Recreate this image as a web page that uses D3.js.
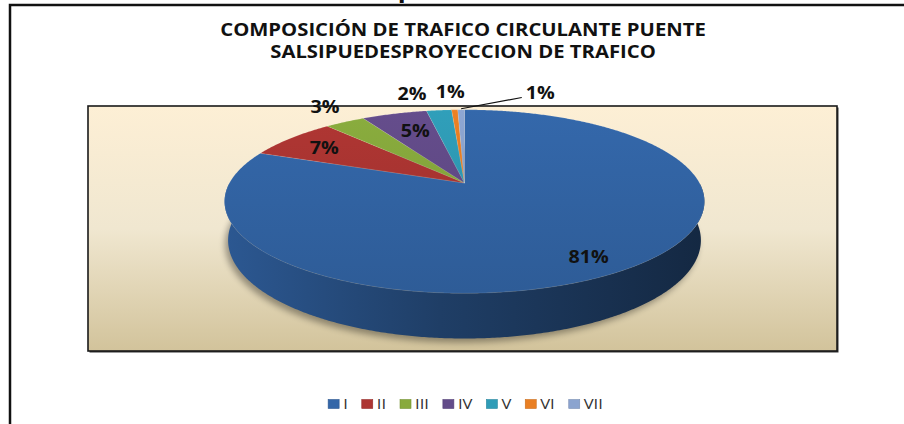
<!DOCTYPE html>
<html><head><meta charset="utf-8">
<script src="https://cdn.jsdelivr.net/npm/d3@7"></script>
<style>html,body{margin:0;padding:0;background:#fff;overflow:hidden}</style>
</head><body><svg id="chart" width="904" height="424"></svg>
<script>
// ---------------- data ----------------
const categories = ["I","II","III","IV","V","VI","VII"];
const shares = [80.9, 7.4, 3.25, 5.35, 2.05, 0.5, 0.55];
const colors = ["#3366a8","#ad3532","#88aa3d","#634c8a","#2f9cb7","#e97f23","#8ba4cf"];
const titleLines = ["COMPOSICIÓN DE TRAFICO CIRCULANTE PUENTE","SALSIPUEDESPROYECCION DE TRAFICO"];

// ---------------- layout ----------------
const W = 904, H = 424;
const svg = d3.select("#chart");
const defs = svg.append("defs");
const FONT = "'Open Sans', 'Liberation Sans', sans-serif";
const plot = {x0: 88, y0: 106, x1: 837, y1: 351};
const cam = {cx: 464.5, cy: 183, D: 4.6, alpha: 22*Math.PI/180, sD: 1081, h: 0.176};
const titleTarget = 486;         // width of first title line
// label placement: radius factor and angular nudge (degrees) from slice middle
const labelPlacement = [
  {r:0.85, shift:2.3}, {r:0.78, shift:-0.9}, {r:1.27, shift:1.8}, {r:0.71, shift:1.2},
  {r:1.30, shift:-5}, {r:1.31, shift:-0.5}, {r:1.35, shift:18.5, leader:true}
];

function proj(r, th, yw){
  const {D, alpha, sD, cx, cy} = cam;
  const px = r*Math.sin(th), pz = -r*Math.cos(th);
  const vy = yw - D*Math.sin(alpha), vz = pz - D*Math.cos(alpha);
  const zc = -vy*Math.sin(alpha) - vz*Math.cos(alpha);
  const yc = vy*Math.cos(alpha) - vz*Math.sin(alpha);
  return [cx + sD*px/zc, cy - sD*yc/zc];
}
function arcPts(a0, a1, yw){
  const n = Math.max(2, Math.ceil(Math.abs(a1-a0)/(Math.PI/360)));
  return d3.range(n+1).map(i => proj(1, a0 + (a1-a0)*i/n, yw));
}

// outer frame
svg.append("path").attr("d", `M10,424 L10,5 L904,5`).attr("fill","none")
  .attr("stroke","#111").attr("stroke-width",2.5);
// partial text cut at top
svg.append("text").attr("x",406).attr("y",-3).attr("text-anchor","middle")
  .attr("font-family",FONT).attr("font-weight",700).attr("font-size",26).attr("fill","#111").text("p");

// title (measure stretch)
const titleG = svg.append("g");
const t1 = titleG.append("text").attr("font-family",FONT).attr("font-weight",700)
  .attr("font-size",18).attr("text-anchor","middle").attr("fill","#111").text(titleLines[0]);
const stretch = titleTarget / t1.node().getComputedTextLength();
t1.attr("transform",`translate(463,36) scale(${stretch},1)`);
titleG.append("text").attr("font-family",FONT).attr("font-weight",700)
  .attr("font-size",18).attr("text-anchor","middle").attr("fill","#111")
  .attr("transform",`translate(463,58) scale(${stretch},1)`).text(titleLines[1]);

// plot area
const bg = defs.append("linearGradient").attr("id","bgGrad").attr("x1",0).attr("y1",0).attr("x2",0).attr("y2",1);
bg.append("stop").attr("offset",0).attr("stop-color","#fdefd5");
bg.append("stop").attr("offset",0.5).attr("stop-color","#f0e7d0");
bg.append("stop").attr("offset",1).attr("stop-color","#d2c39b");
svg.append("rect").attr("x",plot.x0+1.5).attr("y",plot.y0+1.5).attr("width",plot.x1-plot.x0).attr("height",plot.y1-plot.y0)
  .attr("fill","#333");
svg.append("rect").attr("x",plot.x0).attr("y",plot.y0).attr("width",plot.x1-plot.x0).attr("height",plot.y1-plot.y0)
  .attr("fill","url(#bgGrad)").attr("stroke","#1a1a1a").attr("stroke-width",1.6);

// pie angles
const pie = d3.pie().sort(null).value(d => d).startAngle(0).endAngle(2*Math.PI);
const arcs = pie(shares);

// shadow
const blur = defs.append("filter").attr("id","shadow").attr("x","-10%").attr("y","-10%").attr("width","120%").attr("height","130%");
blur.append("feGaussianBlur").attr("stdDeviation",3);
const bottomRim = arcPts(0, 2*Math.PI, -cam.h);
svg.append("path").attr("d", d3.line()(bottomRim)+"Z").attr("transform","translate(-3,4)")
  .attr("fill","#000").attr("opacity",0.35).attr("filter","url(#shadow)");

// side walls
const pieG = svg.append("g");
arcs.forEach((a,i) => {
  const s0 = Math.max(a.startAngle, Math.PI/2), s1 = Math.min(a.endAngle, 3*Math.PI/2);
  if (s1 <= s0) return;
  const g = defs.append("linearGradient").attr("id","side"+i).attr("gradientUnits","userSpaceOnUse")
    .attr("x1",224).attr("y1",0).attr("x2",705).attr("y2",0);
  const c = d3.color(colors[i]);
  g.append("stop").attr("offset",0).attr("stop-color",c.darker(0.4));
  g.append("stop").attr("offset",0.45).attr("stop-color",c.darker(1.4));
  g.append("stop").attr("offset",1).attr("stop-color",c.darker(2.6));
  const top = arcPts(s0, s1, 0), bot = arcPts(s1, s0, -cam.h);
  pieG.append("path").attr("d", d3.line()(top.concat(bot))+"Z").attr("fill",`url(#side${i})`);
});

// top faces
arcs.forEach((a,i) => {
  const c = d3.color(colors[i]);
  const g = defs.append("linearGradient").attr("id","top"+i).attr("gradientUnits","userSpaceOnUse")
    .attr("x1",0).attr("y1",110).attr("x2",0).attr("y2",293);
  g.append("stop").attr("offset",0).attr("stop-color",c.brighter(0.05));
  g.append("stop").attr("offset",1).attr("stop-color",c.darker(0.3));
  const pts = [[cam.cx, cam.cy]].concat(arcPts(a.startAngle, a.endAngle, 0));
  pieG.append("path").attr("d", d3.line()(pts)+"Z").attr("fill",`url(#top${i})`)
    .attr("stroke","rgba(255,255,255,0.18)").attr("stroke-width",0.6).attr("stroke-linejoin","round");
});

// labels
arcs.forEach((a,i) => {
  const lp = labelPlacement[i];
  const mid = (a.startAngle + a.endAngle)/2;
  const [x,y] = proj(lp.r, mid + lp.shift*Math.PI/180, 0);
  const t = svg.append("text").attr("font-family",FONT).attr("font-weight",700).attr("font-size",17.5)
    .attr("text-anchor","middle").attr("fill","#111")
    .attr("transform",`translate(${x},${y+6.3}) scale(${stretch},1)`)
    .text(Math.round(a.value) + "%");
  if (lp.leader){
    const w = t.node().getComputedTextLength()*stretch;
    const [sx,sy] = proj(1.0, mid, 0);
    svg.append("path").attr("d", d3.line()([[sx,sy-1],[x - w/2 - 4, y + 4.5]]))
      .attr("stroke","#111").attr("stroke-width",1.2).attr("fill","none");
  }
});

// legend
const legG = svg.append("g");
let lx = 0;
categories.forEach((c,i) => {
  legG.append("rect").attr("x",lx).attr("y",399.5).attr("width",11).attr("height",9)
    .attr("fill",colors[i]).attr("stroke",d3.color(colors[i]).darker(0.4)).attr("stroke-width",0.6);
  const t = legG.append("text").attr("font-family",FONT).attr("font-size",14).attr("fill","#333")
    .attr("transform",`translate(${lx+15},409) scale(${stretch*1.05},1)`).text(c);
  lx += 15 + t.node().getComputedTextLength()*stretch*1.05 + 14;
});
lx -= 14;
legG.attr("transform",`translate(${465.5 - lx/2},0)`);
</script></body></html>
